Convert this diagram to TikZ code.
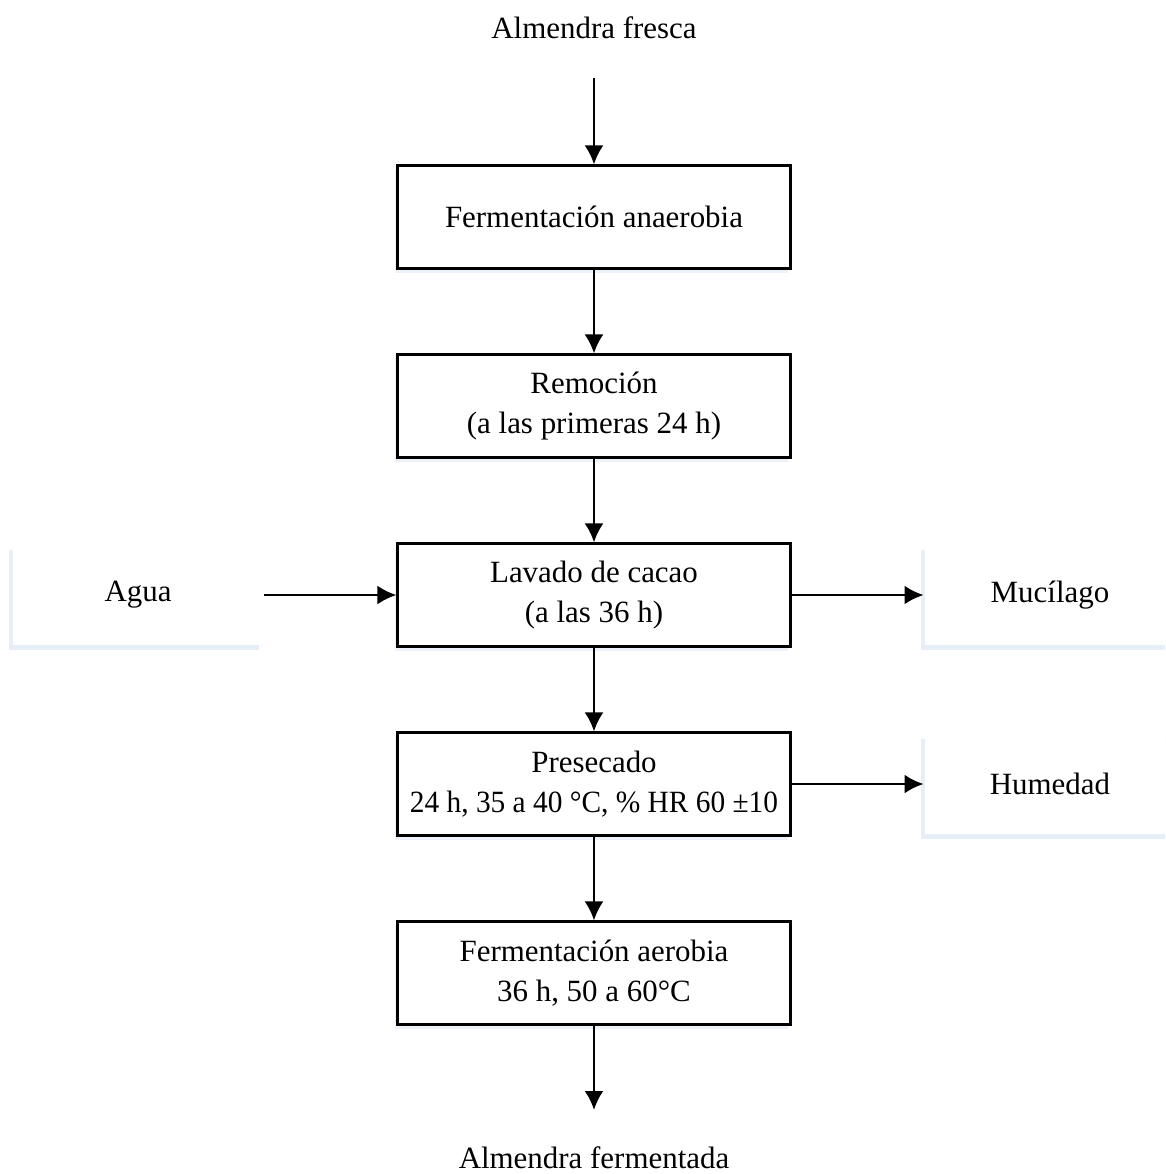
\documentclass[tikz,border=0pt]{standalone}
\usepackage{fontspec}
\setmainfont{Liberation Serif}
\usetikzlibrary{positioning,arrows.meta,shadows}
\definecolor{sombra}{RGB}{200,218,240}

\begin{document}
\begin{tikzpicture}[-{Latex[length=1.9mm,width=1.9mm]}, node distance =1.89cm and 4.56cm, on grid, line width=0.8pt,
font=\fontsize{8.8}{11.2}\selectfont,
process/.style ={ rectangle, draw, line width=0.6pt, fill=white, align=center,
inner xsep=0.5mm, minimum width =3.93cm, minimum height =1.03cm,
drop shadow={shadow xshift=-0.3mm, shadow yshift=-0.4mm, fill=sombra, opacity=0.35}},
side/.style ={ rectangle, fill=white, align=center,
minimum width =2.5cm, minimum height =1.0cm,
drop shadow={shadow xshift=-0.4mm, shadow yshift=-0.5mm, fill=sombra, opacity=0.45}}]
\clip (0,0) rectangle (11.65,-11.74);
\node (Fresca) at (5.94,-0.28) {Almendra fresca};
\node[process] (Anaerobia) [below=of Fresca] {Fermentación anaerobia};
\node[process] (Remocion) [below=of Anaerobia] {Remoción\\(a las primeras 24 h)};
\node[process] (Lavado) [below=of Remocion] {Lavado de cacao\\(a las 36 h)};
\node[process] (Presecado) [below=of Lavado] {Presecado\\{\addfontfeature{FakeStretch=0.95}24 h, 35 a 40 °C, \% HR 60 ±10}};
\node[process] (Aerobia) [below=of Presecado] {Fermentación aerobia\\36 h, 50 a 60°C};
\node (Fermentada) [below=1.85cm of Aerobia] {Almendra fermentada};
\node[side] (Agua) [left=of Lavado] {Agua};
\node[side] (Mucilago) [right=of Lavado] {Mucílago};
\node[side] (Humedad) [right=of Presecado] {Humedad};

\path (Fresca) ++(0,-0.5) coordinate (FrescaTop);
\path (Fermentada) ++(0,0.48) coordinate (FermentadaTop);
\path (FrescaTop) edge node {} (Anaerobia);
\path (Anaerobia) edge node {} (Remocion);
\path (Remocion) edge node {} (Lavado);
\path (Lavado) edge node {} (Presecado);
\path (Presecado) edge node {} (Aerobia);
\path (Aerobia) edge node {} (FermentadaTop);
\path (Agua) edge node {} (Lavado);
\path (Lavado) edge node {} (Mucilago);
\path (Presecado) edge node {} (Humedad);
\end{tikzpicture}
\end{document}
